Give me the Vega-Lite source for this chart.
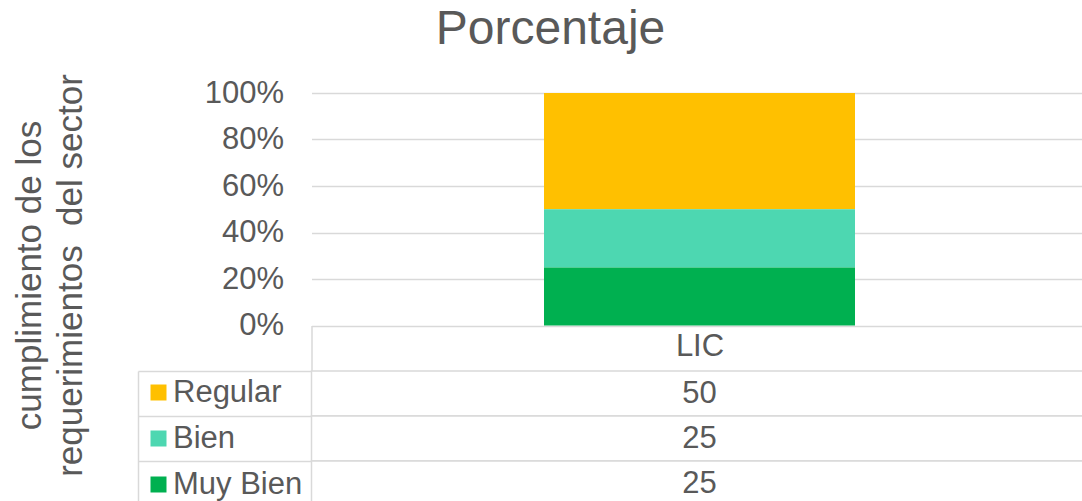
{
  "$schema": "https://vega.github.io/schema/vega-lite/v6.json",
  "background": "white",
  "padding": {"left": 12.5, "top": 5, "right": 0, "bottom": 0},
  "bounds": "flush",
  "spacing": 45,
  "config": {
    "font": "Liberation Sans",
    "view": {"stroke": null},
    "axis": {"labelFont": "Liberation Sans", "titleFont": "Liberation Sans"}
  },
  "data": {
    "values": [
      {"group": "LIC", "cat": "Regular", "value": 50, "rank": 3},
      {"group": "LIC", "cat": "Bien", "value": 25, "rank": 2},
      {"group": "LIC", "cat": "Muy Bien", "value": 25, "rank": 1}
    ]
  },
  "vconcat": [
    {
      "width": 776,
      "height": 232.5,
      "title": {
        "text": "Porcentaje",
        "fontSize": 48,
        "font": "Liberation Sans",
        "fontWeight": "normal",
        "color": "#595959",
        "anchor": "middle",
        "dx": -149,
        "offset": 20
      },
      "mark": {"type": "bar", "size": 311},
      "encoding": {
        "x": {
          "field": "group",
          "type": "nominal",
          "scale": {"paddingInner": 0, "paddingOuter": 0},
          "axis": {
            "title": null,
            "labelAngle": 0,
            "labelFontSize": 31,
            "labelColor": "#595959",
            "domain": false,
            "ticks": true,
            "tickBand": "extent",
            "tickSize": 45,
            "tickColor": "#d9d9d9",
            "tickWidth": 1.5,
            "labelBaseline": "middle",
            "labelPadding": -24,
            "grid": false
          }
        },
        "y": {
          "field": "value",
          "type": "quantitative",
          "stack": "normalize",
          "axis": {
            "values": [0, 0.2, 0.4, 0.6, 0.8, 1],
            "format": "%",
            "labelFontSize": 31,
            "labelColor": "#595959",
            "labelPadding": 28,
            "ticks": false,
            "domain": false,
            "grid": true,
            "gridColor": "#d9d9d9",
            "gridWidth": 1.5,
            "title": ["cumplimiento de los", "requerimientos\u00a0 del sector"],
            "titleFontSize": 35,
            "titleFontWeight": "normal",
            "titleColor": "#595959",
            "titleAngle": -90,
            "titleAlign": "center",
            "titleBaseline": "middle",
            "titleLineHeight": 41,
            "titleX": -282,
            "titleY": 182
          }
        },
        "color": {
          "field": "cat",
          "type": "nominal",
          "scale": {
            "domain": ["Regular", "Bien", "Muy Bien"],
            "range": ["#FFC000", "#4DD7B1", "#00B050"]
          },
          "legend": {
            "title": null,
            "orient": "none",
            "legendX": -168.5,
            "legendY": 284,
            "direction": "vertical",
            "symbolType": "square",
            "symbolSize": 256,
            "symbolStrokeWidth": 0,
            "labelFontSize": 31,
            "labelFont": "Liberation Sans",
            "labelColor": "#595959",
            "labelOffset": -1,
            "rowPadding": 14,
            "padding": 0
          }
        },
        "order": {"field": "rank", "type": "quantitative"}
      }
    },
    {
      "width": 776,
      "height": 135,
      "encoding": {
        "y": {
          "field": "cat",
          "type": "nominal",
          "sort": ["Regular", "Bien", "Muy Bien"],
          "scale": {"paddingInner": 0, "paddingOuter": 0},
          "axis": {
            "title": null,
            "labels": false,
            "offset": 173.5,
            "domain": true,
            "domainColor": "#d9d9d9",
            "domainWidth": 1.5,
            "ticks": true,
            "tickBand": "extent",
            "tickSize": -173.5,
            "tickColor": "#d9d9d9",
            "tickWidth": 1.5,
            "grid": false
          }
        }
      },
      "layer": [
        {
          "mark": {"type": "rect", "fill": "white", "stroke": "#d9d9d9", "strokeWidth": 1.5},
          "encoding": {}
        },
        {
          "mark": {"type": "text", "fontSize": 31, "font": "Liberation Sans", "color": "#595959"},
          "encoding": {"text": {"field": "value", "type": "quantitative"}}
        }
      ]
    }
  ]
}
